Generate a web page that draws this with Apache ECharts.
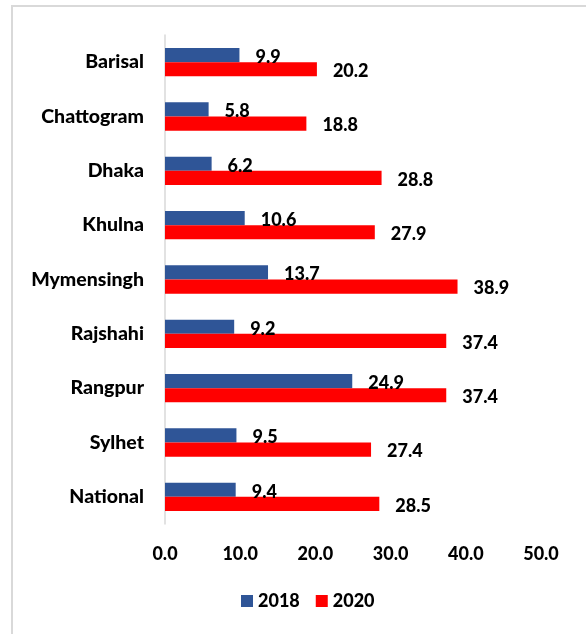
<!DOCTYPE html>
<html>
<head>
<meta charset="utf-8">
<script src="https://cdn.jsdelivr.net/npm/echarts@6/dist/echarts.min.js"></script>
<style>
    html, body { margin: 0; padding: 0; background: #fff; }
    #chart { width: 586px; height: 634px; }
</style>
</head>
<body>
<div id="chart"></div>
<script>
    // divisions, top to bottom
    var divisions = ['Barisal', 'Chattogram', 'Dhaka', 'Khulna', 'Mymensingh', 'Rajshahi', 'Rangpur', 'Sylhet', 'National'];
    var values2018 = [9.9, 5.8, 6.2, 10.6, 13.7, 9.2, 24.9, 9.5, 9.4];
    var values2020 = [20.2, 18.8, 28.8, 27.9, 38.9, 37.4, 37.4, 27.4, 28.5];
    var seriesNames = ['2018', '2020'];

    var font = 'Lato, "Liberation Sans", sans-serif';
    var chart = echarts.init(document.getElementById('chart'));

    var barLabel = {
        show: true,
        position: 'right',
        distance: 16,
        offset: [0, 2],
        color: '#000',
        fontFamily: font,
        fontWeight: 900,
        fontSize: 18,
        formatter: function (p) { return p.value.toFixed(1); }
    };

    var option = {
        animation: false,
        backgroundColor: '#fff',
        grid: { left: 165, right: 45, top: 35, bottom: 110, containLabel: false },
        legend: {
            data: seriesNames,
            bottom: 19,
            left: 236,
            itemWidth: 12,
            itemHeight: 12,
            itemGap: 16,
            icon: 'rect',
            textStyle: { fontFamily: font, fontWeight: 900, fontSize: 18, color: '#000' }
        },
        xAxis: {
            type: 'value',
            min: 0,
            max: 50,
            interval: 10,
            axisLine: { show: false },
            axisTick: { show: false },
            splitLine: { show: false },
            axisLabel: {
                margin: 21,
                color: '#000',
                fontFamily: font,
                fontWeight: 900,
                fontSize: 18,
                formatter: function (v) { return v.toFixed(1); }
            }
        },
        yAxis: {
            type: 'category',
            data: divisions,
            inverse: true,
            axisLine: { show: true, lineStyle: { color: '#d9d9d9', width: 1.5 } },
            axisTick: { show: false },
            axisLabel: {
                margin: 21,
                color: '#000',
                fontFamily: font,
                fontWeight: 900,
                fontSize: 19.5
            }
        },
        series: [
            {
                name: seriesNames[0],
                type: 'bar',
                data: values2018,
                barGap: '0%',
                barCategoryGap: '48%',
                itemStyle: { color: '#2F5597' },
                label: barLabel
            },
            {
                name: seriesNames[1],
                type: 'bar',
                data: values2020,
                barGap: '0%',
                barCategoryGap: '48%',
                itemStyle: { color: '#FF0000' },
                label: barLabel
            }
        ],
        graphic: [
            { type: 'line', shape: { x1: 11, y1: 6, x2: 586, y2: 6 }, style: { stroke: '#d9d9d9', lineWidth: 2 } },
            { type: 'line', shape: { x1: 12, y1: 6, x2: 12, y2: 634 }, style: { stroke: '#d9d9d9', lineWidth: 2 } }
        ]
    };

    chart.setOption(option);
</script>
</body>
</html>
